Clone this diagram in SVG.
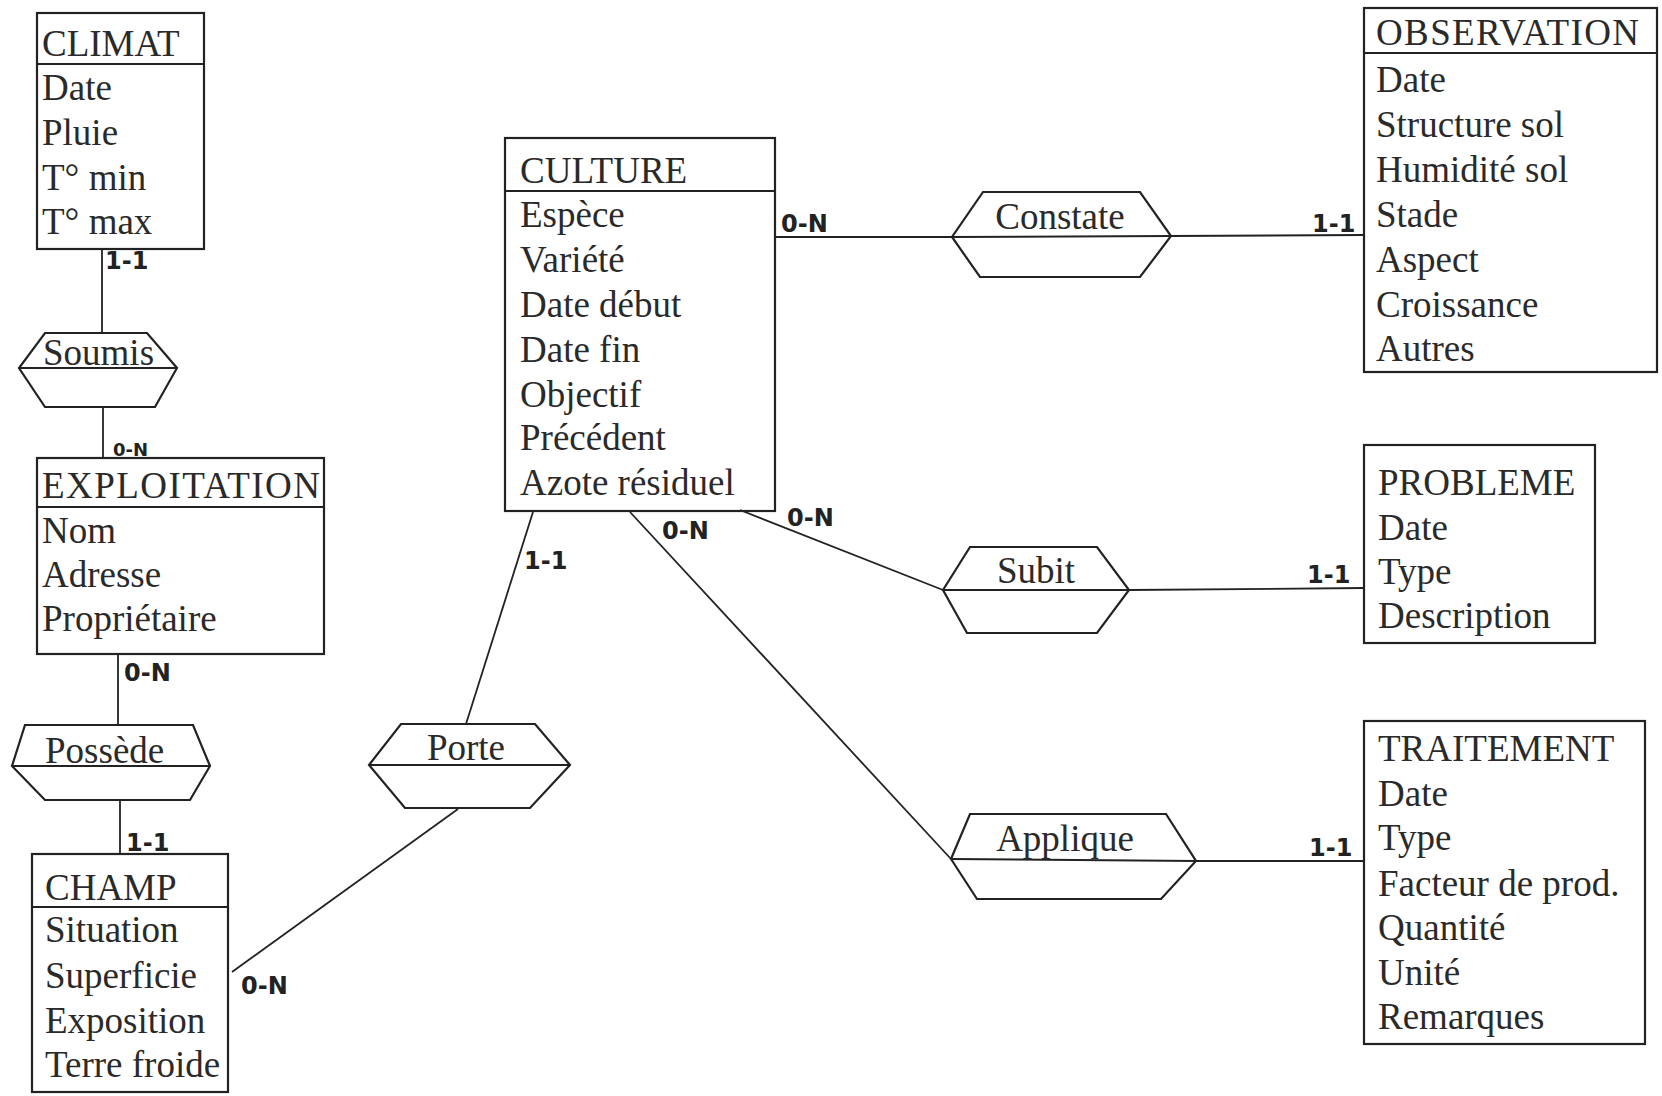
<svg xmlns="http://www.w3.org/2000/svg" width="1662" height="1096" viewBox="0 0 1662 1096">
<style>
.box{fill:none;stroke:#222;stroke-width:2.2}
.sep{stroke:#222;stroke-width:2}
.rel{fill:none;stroke:#222;stroke-width:2.2;stroke-linejoin:miter}
.ln{stroke:#222;stroke-width:1.8;fill:none}
.t{font-family:"Liberation Serif","Times New Roman",serif;font-size:37px;fill:#2a2a2a}
.tc{font-family:"Liberation Serif","Times New Roman",serif;font-size:37px;fill:#2a2a2a;text-anchor:middle}
.c{font-family:"DejaVu Sans","Liberation Sans",sans-serif;font-weight:bold;font-size:24px;fill:#222}
.cs{font-family:"DejaVu Sans","Liberation Sans",sans-serif;font-weight:bold;font-size:18px;fill:#222}
</style>
<rect width="1662" height="1096" fill="#fff"/>
<g id="connectors">
<line class="ln" x1="102" y1="249" x2="102" y2="333"/>
<line class="ln" x1="103" y1="407" x2="103" y2="458"/>
<line class="ln" x1="118" y1="654" x2="118" y2="725"/>
<line class="ln" x1="120" y1="800" x2="120" y2="854"/>
<line class="ln" x1="775" y1="237" x2="952" y2="237"/>
<line class="ln" x1="1171" y1="236" x2="1364" y2="235"/>
<line class="ln" x1="740" y1="510" x2="943" y2="590"/>
<line class="ln" x1="1129" y1="590" x2="1364" y2="588"/>
<line class="ln" x1="630" y1="512" x2="951" y2="859"/>
<line class="ln" x1="1196" y1="861" x2="1364" y2="861"/>
<line class="ln" x1="533" y1="512" x2="466" y2="724"/>
<line class="ln" x1="458" y1="809" x2="232" y2="972"/>
<text class="c" x="105" y="269">1-1</text>
<text class="cs" x="113" y="456">0-N</text>
<text class="c" x="124" y="681">0-N</text>
<text class="c" x="126" y="851">1-1</text>
<text class="c" x="781" y="232">0-N</text>
<text class="c" x="1312" y="232">1-1</text>
<text class="c" x="787" y="526">0-N</text>
<text class="c" x="1307" y="583">1-1</text>
<text class="c" x="662" y="539">0-N</text>
<text class="c" x="1309" y="856">1-1</text>
<text class="c" x="524" y="569">1-1</text>
<text class="c" x="241" y="994">0-N</text>
</g>
<g id="climat">
<rect class="box" x="37" y="13" width="167" height="236"/>
<line class="sep" x1="37" y1="64" x2="204" y2="64"/>
<text class="t" x="42" y="56">CLIMAT</text>
<text class="t" x="42" y="100">Date</text>
<text class="t" x="42" y="145">Pluie</text>
<text class="t" x="42" y="190">T° min</text>
<text class="t" x="42" y="234">T° max</text>
</g>
<g id="soumis">
<polygon class="rel" points="45,333 147,333 177,368 155,407 45,407 19,368"/>
<line class="sep" x1="19" y1="368" x2="177" y2="368"/>
<text class="t" x="43" y="365">Soumis</text>
</g>
<g id="exploitation">
<rect class="box" x="37" y="458" width="287" height="196"/>
<line class="sep" x1="37" y1="507" x2="324" y2="507"/>
<text class="t" x="42" y="498" textLength="278" lengthAdjust="spacing">EXPLOITATION</text>
<text class="t" x="42" y="543">Nom</text>
<text class="t" x="42" y="587">Adresse</text>
<text class="t" x="42" y="631">Propriétaire</text>
</g>
<g id="possede">
<polygon class="rel" points="25,725 193,725 210,766 190,800 45,800 12,766"/>
<line class="sep" x1="12" y1="766" x2="210" y2="766"/>
<text class="t" x="45" y="763">Possède</text>
</g>
<g id="champ">
<rect class="box" x="32" y="854" width="196" height="238"/>
<line class="sep" x1="32" y1="907" x2="228" y2="907"/>
<text class="t" x="45" y="900">CHAMP</text>
<text class="t" x="45" y="942">Situation</text>
<text class="t" x="45" y="988">Superficie</text>
<text class="t" x="45" y="1033">Exposition</text>
<text class="t" x="45" y="1077">Terre froide</text>
</g>
<g id="culture">
<rect class="box" x="505" y="138" width="270" height="373"/>
<line class="sep" x1="505" y1="191" x2="775" y2="191"/>
<text class="t" x="520" y="183">CULTURE</text>
<text class="t" x="520" y="227">Espèce</text>
<text class="t" x="520" y="272">Variété</text>
<text class="t" x="520" y="317">Date début</text>
<text class="t" x="520" y="362">Date fin</text>
<text class="t" x="520" y="407">Objectif</text>
<text class="t" x="520" y="450">Précédent</text>
<text class="t" x="520" y="495">Azote résiduel</text>
</g>
<g id="constate">
<polygon class="rel" points="983,192 1140,192 1171,236 1140,277 980,277 952,237"/>
<line class="sep" x1="952" y1="237" x2="1171" y2="236"/>
<text class="tc" x="1060" y="229">Constate</text>
</g>
<g id="observation">
<rect class="box" x="1364" y="8" width="293" height="364"/>
<line class="sep" x1="1364" y1="53" x2="1657" y2="53"/>
<text class="t" x="1376" y="45" textLength="263" lengthAdjust="spacing">OBSERVATION</text>
<text class="t" x="1376" y="92">Date</text>
<text class="t" x="1376" y="137">Structure sol</text>
<text class="t" x="1376" y="182">Humidité sol</text>
<text class="t" x="1376" y="227">Stade</text>
<text class="t" x="1376" y="272">Aspect</text>
<text class="t" x="1376" y="317">Croissance</text>
<text class="t" x="1376" y="361">Autres</text>
</g>
<g id="subit">
<polygon class="rel" points="970,547 1097,547 1129,590 1097,633 967,633 943,590"/>
<line class="sep" x1="943" y1="590" x2="1129" y2="590"/>
<text class="tc" x="1036" y="583">Subit</text>
</g>
<g id="probleme">
<rect class="box" x="1364" y="445" width="231" height="198"/>
<text class="t" x="1378" y="495">PROBLEME</text>
<text class="t" x="1378" y="540">Date</text>
<text class="t" x="1378" y="584">Type</text>
<text class="t" x="1378" y="628">Description</text>
</g>
<g id="applique">
<polygon class="rel" points="970,814 1166,814 1196,861 1161,899 977,899 951,859"/>
<line class="sep" x1="951" y1="859" x2="1196" y2="861"/>
<text class="tc" x="1065" y="851">Applique</text>
</g>
<g id="traitement">
<rect class="box" x="1364" y="721" width="281" height="323"/>
<text class="t" x="1378" y="761">TRAITEMENT</text>
<text class="t" x="1378" y="806">Date</text>
<text class="t" x="1378" y="850">Type</text>
<text class="t" x="1378" y="896">Facteur de prod.</text>
<text class="t" x="1378" y="940">Quantité</text>
<text class="t" x="1378" y="985">Unité</text>
<text class="t" x="1378" y="1029">Remarques</text>
</g>
<g id="porte">
<polygon class="rel" points="401,724 535,724 570,765 530,808 405,808 369,765"/>
<line class="sep" x1="369" y1="765" x2="570" y2="765"/>
<text class="tc" x="466" y="760">Porte</text>
</g>
</svg>
